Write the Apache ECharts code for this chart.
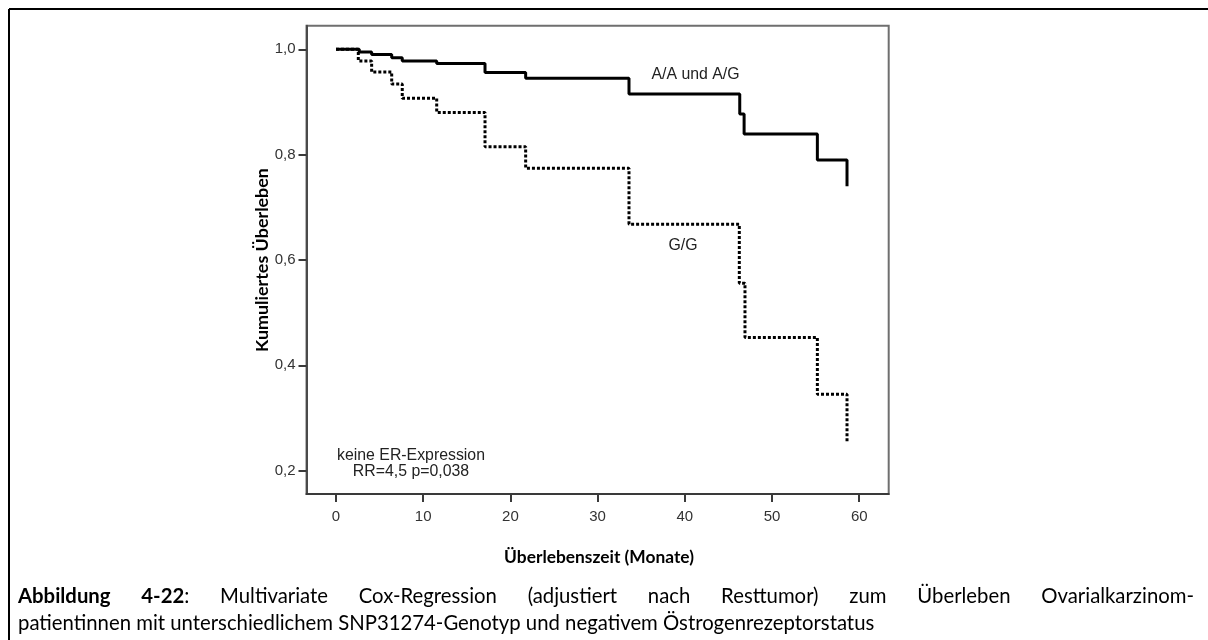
<!DOCTYPE html>
<html lang="de">
<head>
<meta charset="utf-8">
<title>Kumuliertes Überleben</title>
<script src="https://cdn.jsdelivr.net/npm/echarts@6/dist/echarts.min.js"></script>
<style>
  html, body { margin: 0; padding: 0; background: #fff; }
  #chart { width: 1208px; height: 640px; }
</style>
</head>
<body>
<div id="chart"></div>
<script>
  // Stufen der Überlebenskurven: Zeitpunkt (Monate) und kumuliertes Überleben
  var zeitAA = [0, 2.67, 4.09, 6.39, 7.6, 11.55, 17.09, 21.75, 33.6, 46.3, 46.8, 55.2, 58.6];
  var survAA = [1.0, 0.995, 0.990, 0.984, 0.978, 0.973, 0.956, 0.945, 0.915, 0.877, 0.839, 0.790, 0.740];
  var zeitGG = [0, 2.56, 4.09, 6.39, 7.6, 11.55, 17.09, 21.75, 33.6, 46.25, 46.9, 55.2, 58.6];
  var survGG = [1.0, 0.978, 0.957, 0.934, 0.907, 0.880, 0.815, 0.774, 0.668, 0.556, 0.453, 0.345, 0.255];
  var xTicks = [0, 10, 20, 30, 40, 50, 60];
  var yTicks = [0.2, 0.4, 0.6, 0.8, 1.0];

  var captionBold = ['Abbildung', '4-22'];
  var captionRest = 'Multivariate Cox-Regression (adjustiert nach Resttumor) zum Überleben Ovarialkarzinom-';
  var captionLine2 = 'patientinnen mit unterschiedlichem SNP31274-Genotyp und negativem Östrogenrezeptorstatus';

  function zip(xs, ys) {
    var out = [];
    for (var i = 0; i < xs.length; i++) out.push([xs[i], ys[i]]);
    return out;
  }

  var ctx = document.createElement('canvas').getContext('2d');
  function textWidth(text, weight, size, family) {
    ctx.font = weight + ' ' + size + 'px ' + family;
    return ctx.measureText(text).width;
  }
  // Schriftgröße so, dass der Text eine bestimmte Breite hat
  function fitSize(text, weight, family, target) {
    return 20 * target / textWidth(text, weight, 20, family);
  }

  var axisFont = 'Liberation Sans';
  var titleFont = 'Lato';
  var capFont = 'Lato';
  var xTitleSize = fitSize('Überlebenszeit (Monate)', 'bold', titleFont, 190);
  var yTitleSize = fitSize('Kumuliertes Überleben', 'bold', titleFont, 184);
  var noteSize = fitSize('keine ER-Expression', 'normal', axisFont, 148);

  // Bildunterschrift: Zeile 2 bestimmt die Größe, Zeile 1 ist Blocksatz
  var capSize = fitSize(captionLine2, 'normal', capFont, 857);
  var capLeft = 18, capRight = 1194;
  var words = [
    { b: captionBold[0], r: '' },
    { b: captionBold[1], r: ':' }
  ];
  captionRest.split(' ').forEach(function (w) { words.push({ b: '', r: w }); });
  var wordsWidth = 0;
  words.forEach(function (w) {
    w.width = textWidth(w.b, 'bold', capSize, capFont) + textWidth(w.r, 'normal', capSize, capFont);
    wordsWidth += w.width;
  });
  var gap = (capRight - capLeft - wordsWidth) / (words.length - 1);
  var captionGraphics = [];
  var cx = capLeft;
  words.forEach(function (w) {
    var txt = (w.b ? '{b|' + w.b + '}' : '') + (w.r ? '{r|' + w.r + '}' : '');
    captionGraphics.push({
      type: 'text', x: cx, y: 596,
      style: {
        text: txt, verticalAlign: 'middle',
        rich: {
          b: { fontFamily: capFont, fontWeight: 'bold', fontSize: capSize, fill: '#000' },
          r: { fontFamily: capFont, fontSize: capSize, fill: '#000' }
        }
      }
    });
    cx += w.width + gap;
  });
  captionGraphics.push({
    type: 'text', x: capLeft, y: 623,
    style: { text: captionLine2, fontFamily: capFont, fontSize: capSize, fill: '#000', verticalAlign: 'middle' }
  });

  var chart = echarts.init(document.getElementById('chart'));

  chart.setOption({
    animation: false,
    backgroundColor: '#fff',
    grid: {
      left: 306.5, top: 25.7, width: 582.2, height: 468.3,
      show: true, borderColor: '#6f6f6f', borderWidth: 2,
      containLabel: false, outerBoundsMode: 'none'
    },
    xAxis: {
      type: 'value', min: -3.38, max: 63.38,
      axisLine: { show: true, onZero: false, lineStyle: { color: '#3a3a3a', width: 2 } },
      axisTick: { show: true, customValues: xTicks, length: 8, lineStyle: { color: '#3a3a3a', width: 2 } },
      axisLabel: {
        customValues: xTicks, margin: 15, color: '#333',
        fontFamily: axisFont, fontSize: 15
      },
      splitLine: { show: false }
    },
    yAxis: {
      type: 'value', min: 0.1557, max: 1.0448,
      axisLine: { show: true, onZero: false, lineStyle: { color: '#4a4a4a', width: 2 } },
      axisTick: { show: true, customValues: yTicks, length: 8, lineStyle: { color: '#3a3a3a', width: 2 } },
      axisLabel: {
        customValues: yTicks, margin: 11, color: '#333',
        fontFamily: axisFont, fontSize: 15,
        formatter: function (v) { return v.toFixed(1).replace('.', ','); }
      },
      splitLine: { show: false }
    },
    series: [
      {
        name: 'A/A und A/G', type: 'line', step: 'end', showSymbol: false,
        data: zip(zeitAA, survAA),
        lineStyle: { color: '#000', width: 3, cap: 'butt' }
      },
      {
        name: 'G/G', type: 'line', step: 'end', showSymbol: false,
        data: zip(zeitGG, survGG),
        lineStyle: { color: '#000', width: 3, type: [3, 2], cap: 'butt' }
      }
    ],
    graphic: [
      // Rahmen der Abbildung
      { type: 'line', shape: { x1: 9, y1: 9, x2: 1208, y2: 9 }, style: { stroke: '#000', lineWidth: 2 } },
      { type: 'line', shape: { x1: 9, y1: 9, x2: 9, y2: 640 }, style: { stroke: '#000', lineWidth: 2 } },
      // Kurvenbeschriftungen
      { type: 'text', x: 651.5, y: 75, style: { text: 'A/A und A/G', font: noteSize + 'px ' + axisFont, fill: '#222', verticalAlign: 'middle' } },
      { type: 'text', x: 668.5, y: 245.5, style: { text: 'G/G', font: noteSize + 'px ' + axisFont, fill: '#222', verticalAlign: 'middle' } },
      { type: 'text', x: 411, y: 455.5, style: { text: 'keine ER-Expression', font: noteSize + 'px ' + axisFont, fill: '#222', align: 'center', verticalAlign: 'middle' } },
      { type: 'text', x: 411, y: 471.5, style: { text: 'RR=4,5 p=0,038', font: noteSize + 'px ' + axisFont, fill: '#222', align: 'center', verticalAlign: 'middle' } },
      // Achsentitel
      { type: 'text', x: 262, y: 260, rotation: Math.PI / 2,
        style: { text: 'Kumuliertes Überleben', font: 'bold ' + yTitleSize + 'px ' + titleFont, fill: '#000', align: 'center', verticalAlign: 'middle' } },
      { type: 'text', x: 599, y: 557,
        style: { text: 'Überlebenszeit (Monate)', font: 'bold ' + xTitleSize + 'px ' + titleFont, fill: '#000', align: 'center', verticalAlign: 'middle' } }
    ].concat(captionGraphics)
  });
</script>
</body>
</html>
